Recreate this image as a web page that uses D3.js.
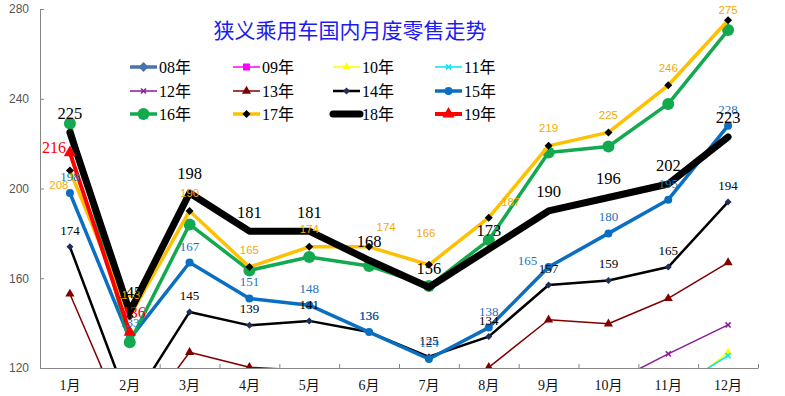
<!DOCTYPE html>
<html><head><meta charset="utf-8">
<script src="https://cdn.jsdelivr.net/npm/d3@7/dist/d3.min.js"></script>
<style>
html,body{margin:0;padding:0;background:#fff;}
svg{display:block;}
</style></head>
<body>
<svg id="chart" width="785" height="396"></svg>
<script>
// ---- data ----
const title = "狭义乘用车国内月度零售走势";
const months = ["1月","2月","3月","4月","5月","6月","7月","8月","9月","10月","11月","12月"];
const yTicks = [120,160,200,240,280];
const seriesNames = ["08年","09年","10年","11年","12年","13年","14年","15年","16年","17年","18年","19年"];
const s08 = [58,42,52,55,52,48,42,40,47,50,47,55];
const s09 = [61,55,71,72,71,74,73,78,96,90,96,112];
const s10 = [104,85,100,95,90,87,80,84,100,98,106,127];
const s11 = [110,88,103,95,88,90,82,90,104,100,109,125.5];
const s12 = [100,92,108,100,95,95,88,96,110,112.6,126.3,139.2];
const s13 = [153,91,127,120.3,119,112,108,120.3,141.5,139.7,151,167];
const s14 = [174,103,145,139,141,136,125,134,157,159,165,194];
const s15 = [198,133,167,151,148,136,124,138,165,180,195,228];
const s16 = [229,131.5,184,163.5,169.5,165.5,156.5,177,216,218.7,237.7,270.6];
const s17 = [208,143,190,165,174,174,166,187,219,225,246,275];
const s18 = [225,145,198,181,181,168,156,173,190,196,202,223];
const s19 = [216,136];
const seriesValues = [s08,s09,s10,s11,s12,s13,s14,s15,s16,s17,s18,s19];
// which series carry data labels
const labelled = ["14年","15年","17年","18年","19年"];

// ---- styles (not data) ----
const styles = {
  "08年":{color:"#4a74aa",width:3.5,marker:"diamond",mfill:"#4a74aa",msize:10},
  "09年":{color:"#ff00ff",width:1.5,marker:"square",mfill:"#ff00ff",msize:7},
  "10年":{color:"#ffff00",width:1.5,marker:"triangle",mfill:"#ffff00",msize:8},
  "11年":{color:"#00e5ee",width:1.5,marker:"x",mfill:"#00e5ee",msize:3.5},
  "12年":{color:"#8b1a9b",width:1.5,marker:"x",mfill:"#8b1a9b",msize:3.5},
  "13年":{color:"#800000",width:1.5,marker:"triangle",mfill:"#800000",msize:9},
  "14年":{color:"#000000",width:2.5,marker:"diamond",mfill:"#1f2f5a",msize:7},
  "15年":{color:"#0a6fc2",width:3.5,marker:"circle",mfill:"#0a6fc2",msize:8},
  "16年":{color:"#12a94f",width:3.5,marker:"circle",mfill:"#12a94f",msize:12},
  "17年":{color:"#ffc000",width:3.5,marker:"diamond",mfill:"#000000",msize:8},
  "18年":{color:"#000000",width:7,marker:null},
  "19年":{color:"#ff0000",width:4,marker:"triangle",mfill:"#ff0000",msize:12}
};
const labelStyle = {
  "14年":{color:"#000000",font:"'Liberation Serif',serif",size:13,dy:-16.5},
  "15年":{color:"#1f72c0",font:"'Liberation Serif',serif",size:13,dy:-16.5},
  "17年":{color:"#f2ac00",font:"'Liberation Sans',sans-serif",size:11.5,dy:-17.5},
  "18年":{color:"#000000",font:"'Liberation Serif',serif",size:16.5,dy:-19},
  "19年":{color:"#ff0000",font:"'Liberation Serif',serif",size:16,dy:-19}
};
// hand-placed label nudges [dx,dy]
const nudges = {
  "17年|0":[-11,14],"17年|1":[1,-21],"17年|5":[17,-20],"17年|6":[-3,-32],"17年|7":[22,-16],"17年|11":[0,-10],
  "15年|8":[-21,-7],
  "19年|0":[-16,-5],"19年|1":[4,-20]
};

// ---- chart ----
const svg = d3.select("#chart");
const L = 40, R = 758, T = 9, B = 368;
const x = d3.scaleBand().domain(months).range([L,R]);
const cx = m => x(m) + x.bandwidth()/2;
const y = d3.scaleLinear().domain([120,280]).range([B,T]);

svg.append("defs").append("clipPath").attr("id","plot")
  .append("rect").attr("x",L).attr("y",T-1).attr("width",R-L).attr("height",B-T+1);

// title
svg.append("text").attr("x",350).attr("y",29).attr("text-anchor","middle")
  .attr("dominant-baseline","central")
  .style("font-family","'Noto Sans CJK SC',sans-serif").style("font-size","21px")
  .style("fill","#1c1cf0").text(title);

// y axis
const yAxis = svg.append("g").attr("transform",`translate(${L},0)`)
  .call(d3.axisLeft(y).tickValues(yTicks).tickSizeInner(-4).tickSizeOuter(0).tickPadding(11).tickFormat(d3.format("d")));
yAxis.selectAll("path,line").attr("stroke","#868686");
yAxis.selectAll("text").style("font-family","'Liberation Sans',sans-serif").style("font-size","12px").style("fill","#555");

// x axis tick marks at band boundaries
const xi = d3.scaleLinear().domain([0,months.length]).range([L,R]);
const xTickAxis = svg.append("g").attr("transform",`translate(0,${B})`)
  .call(d3.axisBottom(xi).tickValues(d3.range(0,months.length+1)).tickSizeInner(-4).tickSizeOuter(0).tickFormat(""));
xTickAxis.selectAll("path,line").attr("stroke","#868686");
const xAxis = svg.append("g").attr("transform",`translate(0,${B})`)
  .call(d3.axisBottom(x).tickSize(0).tickPadding(12));
xAxis.select("path").remove();
xAxis.selectAll("text").style("font-family","'Liberation Serif','Noto Sans CJK SC',serif").style("font-size","14px").style("fill","#111");

function markerPath(type, size){
  const a = size*size;
  if(type==="circle") return d3.symbol(d3.symbolCircle, Math.PI*size*size/4)();
  if(type==="square") return d3.symbol(d3.symbolSquare, a)();
  if(type==="diamond") return d3.symbol(d3.symbolSquare, a/2)();
  if(type==="triangle") return d3.symbol(d3.symbolTriangle, a*0.45)();
  if(type==="x") return d3.symbol(d3.symbolTimes||d3.symbolCross, a*1.5)();
  return null;
}
function drawMarker(g, type, size, fill, color, px, py){
  const p = g.append("path").attr("d", markerPath(type,size));
  let tr = `translate(${px},${py})`;
  if(type==="diamond") tr += " rotate(45)";
  p.attr("transform",tr);
  if(type==="x"){ p.attr("fill","none").attr("stroke",fill).attr("stroke-width",1.5); }
  else { p.attr("fill",fill).attr("stroke","none"); }
}

const plot = svg.append("g").attr("clip-path","url(#plot)");
const line = d3.line().x(d=>cx(d.m)).y(d=>y(d.v));

seriesNames.forEach((name,i)=>{
  const st = styles[name];
  const pts = seriesValues[i].map((v,j)=>({m:months[j],v}));
  const g = plot.append("g");
  g.append("path").datum(pts).attr("d",line).attr("fill","none")
    .attr("stroke",st.color).attr("stroke-width",st.width)
    .attr("stroke-linejoin","round").attr("stroke-linecap","round");
  if(st.marker){
    pts.filter(p=>p.v>=120).forEach(p=>drawMarker(g, st.marker, st.msize, st.mfill, st.color, cx(p.m), y(p.v)));
  }
});

// data labels
const labG = svg.append("g");
seriesNames.forEach((name,i)=>{
  if(!labelled.includes(name)) return;
  const ls = labelStyle[name];
  seriesValues[i].forEach((v,j)=>{
    if(v<120) return;
    const n = nudges[name+"|"+j] || [0, ls.dy];
    labG.append("text").attr("x",cx(months[j])+n[0]).attr("y",y(v)+n[1])
      .attr("text-anchor","middle").attr("dominant-baseline","central")
      .style("font-family",ls.font).style("font-size",ls.size+"px").style("fill",ls.color)
      .text(d3.format("d")(Math.round(v)));
  });
});

// legend
const colX = [130,233,333,435];
const rowY = [67,91,114];
const leg = svg.append("g");
seriesNames.forEach((name,i)=>{
  const st = styles[name];
  const lx = colX[i%4], ly = rowY[Math.floor(i/4)];
  const g = leg.append("g");
  g.append("line").attr("x1",lx).attr("x2",lx+27).attr("y1",ly).attr("y2",ly)
    .attr("stroke",st.color).attr("stroke-width",st.width)
    .attr("stroke-linecap", name==="18年" ? "round" : "butt");
  if(st.marker) drawMarker(g, st.marker, st.msize, st.mfill, st.color, lx+13.5, ly);
  g.append("text").attr("x",lx+29).attr("y",ly).attr("dominant-baseline","central")
    .style("font-family","'Liberation Serif','Noto Sans CJK SC',serif").style("font-size","16px").style("fill","#000")
    .text(name);
});
</script>
</body></html>
